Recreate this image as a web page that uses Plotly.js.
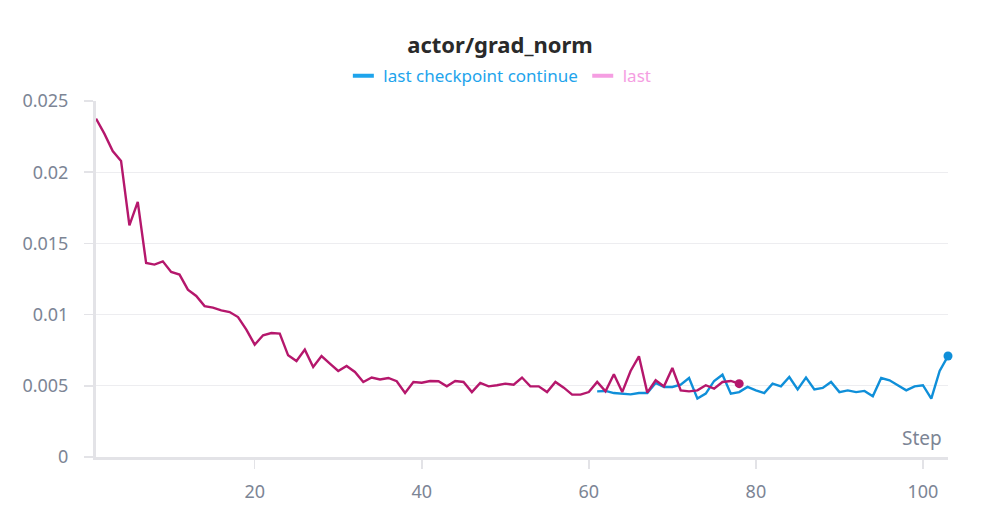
<!DOCTYPE html>
<html>
<head>
<meta charset="utf-8">
<script src="https://cdn.plot.ly/plotly-3.0.1.min.js"></script>
<style>
  html, body { margin: 0; padding: 0; background: #ffffff; }
  #chart { width: 1000px; height: 525px; }
</style>
</head>
<body>
<div id="chart"></div>
<script>
  // run "last": steps 1..78
  const lastFirstStep = 1;
  const lastValues = [
    0.02376, 0.02271, 0.02149, 0.02079, 0.01627, 0.01791, 0.01362, 0.01351, 0.01374, 0.01299,
    0.01281, 0.01175, 0.01131, 0.01060, 0.01049, 0.01030, 0.01018, 0.00983, 0.00895, 0.00789,
    0.00855, 0.00871, 0.00867, 0.00714, 0.00674, 0.00754, 0.00632, 0.00709, 0.00656, 0.00604,
    0.00639, 0.00597, 0.00527, 0.00558, 0.00544, 0.00555, 0.00532, 0.00449, 0.00527, 0.00522,
    0.00534, 0.00532, 0.00496, 0.00534, 0.00527, 0.00456, 0.00520, 0.00496, 0.00504, 0.00515,
    0.00508, 0.00558, 0.00496, 0.00496, 0.00456, 0.00527, 0.00487, 0.00438, 0.00438, 0.00456,
    0.00527, 0.00461, 0.00581, 0.00456, 0.00604, 0.00707, 0.00452, 0.00539, 0.00496, 0.00625,
    0.00468, 0.00461, 0.00468, 0.00504, 0.00480, 0.00527, 0.00534, 0.00515,
  ];

  // run "last checkpoint continue": steps 61..103
  const contFirstStep = 61;
  const contValues = [
    0.00461, 0.00464, 0.00449, 0.00445, 0.00440, 0.00449, 0.00449, 0.00520, 0.00492, 0.00492,
    0.00508, 0.00555, 0.00410, 0.00445, 0.00534, 0.00578, 0.00445, 0.00456, 0.00492, 0.00468,
    0.00449, 0.00515, 0.00496, 0.00562, 0.00475, 0.00558, 0.00475, 0.00485, 0.00527, 0.00456,
    0.00468, 0.00456, 0.00464, 0.00426, 0.00555, 0.00539, 0.00504, 0.00468, 0.00496, 0.00504,
    0.00410, 0.00604, 0.00709,
  ];

  const xTicks = [20, 40, 60, 80, 100];
  const yTicks = [0, 0.005, 0.01, 0.015, 0.02, 0.025];
  const yTickText = ["0", "0.005", "0.01", "0.015", "0.02", "0.025"];

  const colors = {
    cont: "#0f8fd9",
    contLegend: "#1ea4ec",
    last: "#b5176c",
    lastLegend: "#f59ee2",
    axis: "#e3e3e7",
    grid: "#ededf0",
    tick: "#7c8595",
  };

  function stepsFrom(first, values) {
    return values.map((_, i) => first + i);
  }

  const contSteps = stepsFrom(contFirstStep, contValues);
  const lastSteps = stepsFrom(lastFirstStep, lastValues);

  // only the last point of a run gets a dot
  function endMarker(values) {
    return values.map((_, i) => (i === values.length - 1 ? 9 : 0));
  }

  const traces = [
    {
      x: contSteps,
      y: contValues,
      type: "scatter",
      mode: "lines+markers",
      cliponaxis: false,
      line: { color: colors.cont, width: 2.4 },
      marker: { color: colors.cont, opacity: 1, size: endMarker(contValues), line: { width: 0 } },
      showlegend: false,
    },
    {
      x: lastSteps,
      y: lastValues,
      type: "scatter",
      mode: "lines+markers",
      cliponaxis: false,
      line: { color: colors.last, width: 2.4 },
      marker: { color: colors.last, opacity: 1, size: endMarker(lastValues), line: { width: 0 } },
      showlegend: false,
    },
    // legend entries
    {
      x: [null],
      y: [null],
      type: "scatter",
      mode: "markers",
      name: `<span style="color:${colors.contLegend}">last checkpoint continue</span>`,
      marker: { symbol: "line-ew", size: 15, line: { color: colors.contLegend, width: 4 } },
    },
    {
      x: [null],
      y: [null],
      type: "scatter",
      mode: "markers",
      name: `<span style="color:${colors.lastLegend}">last</span>`,
      marker: { symbol: "line-ew", size: 15, line: { color: colors.lastLegend, width: 4 } },
    },
  ];

  const layout = {
    width: 1000,
    height: 525,
    margin: { l: 96, r: 52, t: 101, b: 68 },
    paper_bgcolor: "#ffffff",
    plot_bgcolor: "#ffffff",
    font: { family: "Noto Sans, sans-serif", color: colors.tick },
    title: {
      text: "<b>actor/grad_norm</b>",
      font: { size: 22, color: "#2a2a2a" },
      x: 0.5,
      xref: "container",
      xanchor: "center",
      y: 0.914,
      yref: "container",
      yanchor: "middle",
    },
    showlegend: true,
    legend: {
      orientation: "h",
      x: 0.474,
      xanchor: "center",
      y: 1.07,
      yanchor: "middle",
      font: { size: 17 },
      itemwidth: 30,
      tracegroupgap: 0,
      bgcolor: "rgba(0,0,0,0)",
    },
    xaxis: {
      range: [1, 103],
      tickvals: xTicks,
      ticktext: xTicks.map(String),
      ticks: "outside",
      ticklen: 9,
      tickwidth: 1.5,
      tickcolor: colors.axis,
      ticklabelstandoff: 7,
      showgrid: false,
      zeroline: false,
      showline: true,
      linecolor: colors.axis,
      linewidth: 3,
      tickfont: { size: 18, color: colors.tick },
    },
    xaxis2: {
      overlaying: "x",
      anchor: "y",
      side: "bottom",
      range: [1, 103],
      tickvals: xTicks,
      ticks: "inside",
      ticklen: 9,
      tickwidth: 1.5,
      tickcolor: colors.axis,
      showticklabels: false,
      showgrid: false,
      zeroline: false,
      showline: false,
    },
    yaxis: {
      range: [0, 0.025],
      tickvals: yTicks,
      ticktext: yTickText,
      ticks: "outside",
      ticklen: 9,
      tickwidth: 1.5,
      tickcolor: colors.axis,
      ticklabelstandoff: 12,
      showgrid: true,
      gridcolor: colors.grid,
      gridwidth: 1,
      zeroline: false,
      showline: true,
      linecolor: colors.axis,
      linewidth: 3,
      tickfont: { size: 18, color: colors.tick },
    },
    yaxis2: {
      overlaying: "y",
      anchor: "x",
      side: "left",
      range: [0, 0.025],
      tickvals: yTicks,
      ticks: "inside",
      ticklen: 9,
      tickwidth: 1.5,
      tickcolor: colors.axis,
      showticklabels: false,
      showgrid: false,
      zeroline: false,
      showline: false,
    },
    annotations: [
      {
        text: "Step",
        xref: "paper",
        yref: "paper",
        x: 0.995,
        y: 0.01,
        xanchor: "right",
        yanchor: "bottom",
        showarrow: false,
        font: { size: 19, color: colors.tick },
      },
    ],
  };

  Plotly.newPlot("chart", traces, layout, { displayModeBar: false, staticPlot: true });
</script>
</body>
</html>
